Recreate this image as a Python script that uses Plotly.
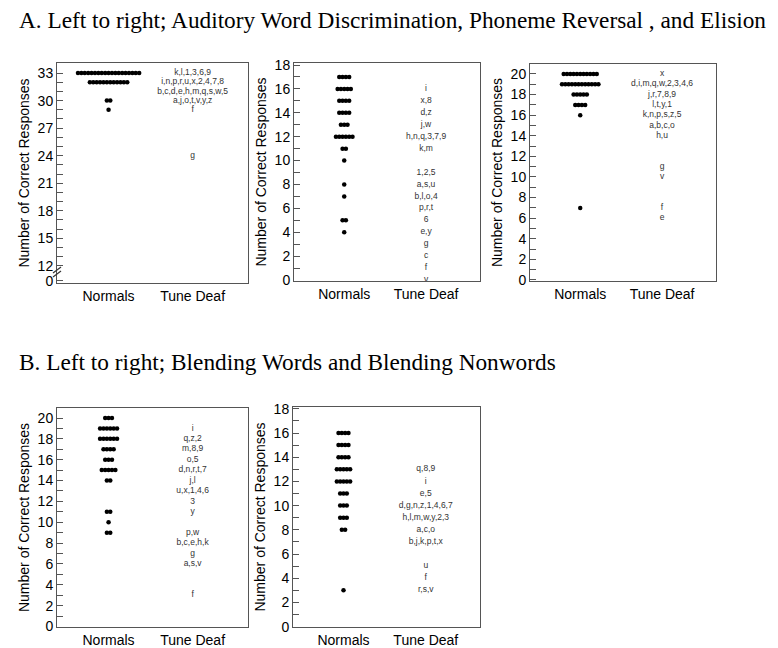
import plotly.graph_objects as go

# Panel A1: Auditory Word Discrimination (broken axis, 0 then 12..33)
A1_SCORES = [33, 32, 30, 29]
A1_NORMALS = [19, 12, 2, 1]
A1_TD_SCORES = [33, 32, 31, 30, 29, 24]
A1_TD_LABELS = ["k,l,1,3,6,9", "i,n,p,r,u,x,2,4,7,8", "b,c,d,e,h,m,q,s,w,5",
                "a,j,o,t,v,y,z", "f", "g"]

# Panel A2: Phoneme Reversal
A2_SCORES = [17, 16, 15, 14, 13, 12, 11, 10, 8, 7, 5, 4]
A2_NORMALS = [4, 5, 4, 4, 3, 6, 2, 1, 1, 1, 2, 1]
A2_TD_SCORES = [16, 15, 14, 13, 12, 11, 9, 8, 7, 6, 5, 4, 3, 2, 1, 0]
A2_TD_LABELS = ["i", "x,8", "d,z", "j,w", "h,n,q,3,7,9", "k,m", "1,2,5", "a,s,u",
                "b,l,o,4", "p,r,t", "6", "e,y", "g", "c", "f", "v"]

# Panel A3: Elision
A3_SCORES = [20, 19, 18, 17, 16, 7]
A3_NORMALS = [11, 12, 5, 4, 1, 1]
A3_TD_SCORES = [20, 19, 18, 17, 16, 15, 14, 11, 10, 7, 6]
A3_TD_LABELS = ["x", "d,i,m,q,w,2,3,4,6", "j,r,7,8,9", "l,t,y,1", "k,n,p,s,z,5",
                "a,b,c,o", "h,u", "g", "v", "f", "e"]

# Panel B1: Blending Words
B1_SCORES = [20, 19, 18, 17, 16, 15, 14, 11, 10, 9]
B1_NORMALS = [3, 6, 6, 4, 3, 5, 2, 2, 1, 2]
B1_TD_SCORES = [19, 18, 17, 16, 15, 14, 13, 12, 11, 9, 8, 7, 6, 3]
B1_TD_LABELS = ["i", "q,z,2", "m,8,9", "o,5", "d,n,r,t,7", "j,l", "u,x,1,4,6", "3",
                "y", "p,w", "b,c,e,h,k", "g", "a,s,v", "f"]

# Panel B2: Blending Nonwords
B2_SCORES = [16, 15, 14, 13, 12, 11, 10, 9, 8, 3]
B2_NORMALS = [4, 4, 4, 5, 5, 3, 3, 3, 2, 1]
B2_TD_SCORES = [13, 12, 11, 10, 9, 8, 7, 5, 4, 3]
B2_TD_LABELS = ["q,8,9", "i", "e,5", "d,g,n,z,1,4,6,7", "h,l,m,w,y,2,3", "a,c,o",
                "b,j,k,p,t,x", "u", "f", "r,s,v"]

CATEGORIES = ["Normals", "Tune Deaf"]
TITLE_A = "A. Left to right; Auditory Word Discrimination, Phoneme Reversal , and Elision"
TITLE_B = "B. Left to right; Blending Words and Blending Nonwords"

W, H = 778, 648
NORM_X, TD_X = 0.27, 0.71
DOT_STEP = 0.0178
SANS = "Liberation Sans, Arial, sans-serif"
SERIF = "Liberation Serif, Times New Roman, serif"
FRAME = "#555555"


def px_dom(a, b):
    return [a / W, b / W]


def py_dom(top, bottom):
    return [1 - bottom / H, 1 - top / H]


# panel frames in pixels: (left, right, top, bottom)
panels = [
    dict(name="A1", box=(57, 248, 63, 283), scores=A1_SCORES, normals=A1_NORMALS,
         td_scores=A1_TD_SCORES, td_labels=A1_TD_LABELS, yrange=[10.12, 34.1]),
    dict(name="A2", box=(294, 480, 63, 281), scores=A2_SCORES, normals=A2_NORMALS,
         td_scores=A2_TD_SCORES, td_labels=A2_TD_LABELS, yrange=[-0.08, 18.17]),
    dict(name="A3", box=(530, 716, 64, 281), scores=A3_SCORES, normals=A3_NORMALS,
         td_scores=A3_TD_SCORES, td_labels=A3_TD_LABELS, yrange=[-0.1, 20.97]),
    dict(name="B1", box=(57, 248, 408, 627), scores=B1_SCORES, normals=B1_NORMALS,
         td_scores=B1_TD_SCORES, td_labels=B1_TD_LABELS, yrange=[-0.05, 20.96]),
    dict(name="B2", box=(293, 480, 407, 627), scores=B2_SCORES, normals=B2_NORMALS,
         td_scores=B2_TD_SCORES, td_labels=B2_TD_LABELS, yrange=[-0.03, 18.15]),
]

fig = go.Figure()
layout = {}

for i, p in enumerate(panels):
    n = i + 1
    xa = "x" if n == 1 else f"x{n}"
    ya = "y" if n == 1 else f"y{n}"
    l, r, t, b = p["box"]

    # spread the normals horizontally around the column centre
    xs, ys = [], []
    for score, count in zip(p["scores"], p["normals"]):
        for k in range(count):
            xs.append(NORM_X + (k - (count - 1) / 2) * DOT_STEP)
            ys.append(score)
    fig.add_trace(go.Scatter(x=xs, y=ys, mode="markers", xaxis=xa, yaxis=ya,
                             marker=dict(color="black", size=4.5), showlegend=False,
                             hoverinfo="skip"))
    fig.add_trace(go.Scatter(x=[TD_X] * len(p["td_scores"]), y=p["td_scores"],
                             mode="text", text=p["td_labels"], xaxis=xa, yaxis=ya,
                             textfont=dict(family=SANS, size=8.5, color="#333333"),
                             textposition="middle center", showlegend=False,
                             hoverinfo="skip"))

    if p["name"] == "A1":
        tickvals = [10.37] + list(range(12, 34))
        ticktext = ["0"] + [str(v) if v % 3 == 0 else "" for v in range(12, 34)]
    else:
        top = int(p["yrange"][1])
        tickvals = list(range(0, top + 1))
        ticktext = [str(v) if v % 2 == 0 else "" for v in tickvals]

    axis_common = dict(showline=True, linecolor=FRAME, linewidth=1, mirror=True,
                       showgrid=False, zeroline=False, automargin=False)
    layout["xaxis" if n == 1 else f"xaxis{n}"] = dict(
        domain=px_dom(l, r), anchor=ya, range=[0, 1],
        tickvals=[NORM_X, TD_X], ticktext=CATEGORIES, ticks="", ticklen=0,
        tickfont=dict(family=SANS, size=14, color="black"), **axis_common)
    layout["yaxis" if n == 1 else f"yaxis{n}"] = dict(
        domain=py_dom(t, b), anchor=xa, range=p["yrange"],
        tickvals=tickvals, ticktext=ticktext, ticks="inside", ticklen=6,
        tickcolor=FRAME, tickfont=dict(family=SANS, size=14, color="black"),
        title=dict(text="Number of Correct Responses",
                   font=dict(family=SANS, size=14, color="black"), standoff=4),
        **axis_common)

fig.update_layout(**layout)

# axis break marks on the first panel
for dy in (0, 4):
    fig.add_shape(type="line", xref="paper", yref="paper",
                  x0=53 / W, x1=61 / W, y0=1 - (277 - dy) / H, y1=1 - (271 - dy) / H,
                  line=dict(color="#333333", width=1.2))

fig.add_annotation(text=TITLE_A, xref="paper", yref="paper", x=17 / W, y=1 - 20 / H,
                   xanchor="left", yanchor="middle", showarrow=False,
                   font=dict(family=SERIF, size=23.3, color="black"))
fig.add_annotation(text=TITLE_B, xref="paper", yref="paper", x=17 / W, y=1 - 362 / H,
                   xanchor="left", yanchor="middle", showarrow=False,
                   font=dict(family=SERIF, size=23.3, color="black"))

fig.update_layout(width=W, height=H, margin=dict(l=0, r=0, t=0, b=0),
                  paper_bgcolor="white", plot_bgcolor="white")

fig.write_html("out.html", config={"displayModeBar": False},
               post_script="document.body.style.margin='0';")
